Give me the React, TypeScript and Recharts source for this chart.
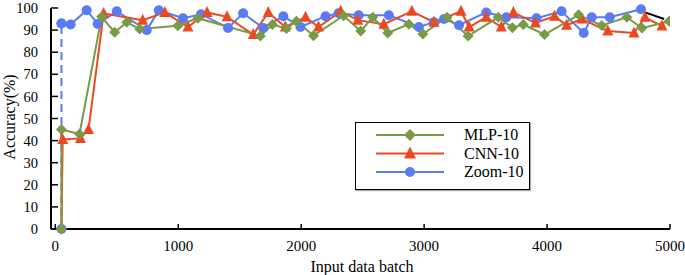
import React from "react";
import { LineChart, Line, XAxis, YAxis, Legend } from "recharts";

// MLP-10
const mlpBatch = [-35, 50, 50, 197, 377, 483, 581, 687, 997, 1160, 1668, 1766, 1880, 1961, 2100, 2345, 2484, 2582, 2704, 2876, 2990, 3187, 3358, 3603, 3718, 3807, 3979, 4257, 4445, 4649, 4772, 4993];
const mlpAcc = [0, 0, 45, 43, 96, 89, 93.5, 90.5, 92, 95.4, 87.3, 92.5, 90.7, 94, 87.5, 96.5, 89.6, 95.8, 88.7, 92.7, 88.2, 95.8, 87.3, 95.8, 91.1, 92.5, 88, 96.9, 92.1, 95.8, 90.9, 94];

// CNN-10
const cnnBatch = [-35, 50, 60, 205, 270, 393, 711, 891, 1079, 1234, 1397, 1610, 1732, 1871, 2035, 2141, 2321, 2460, 2672, 2900, 3080, 3300, 3366, 3505, 3628, 3726, 3906, 4061, 4159, 4282, 4494, 4707, 4796, 4935];
const cnnAcc = [0, 0, 40.5, 41, 45, 97.5, 94.5, 98, 91.4, 98, 96, 88, 98, 91.4, 95.8, 91.4, 98.5, 94.5, 92.7, 98.5, 93.6, 98.5, 91.4, 95.8, 91.4, 98, 93.2, 96.3, 92.2, 95, 89.6, 88.7, 95.8, 91.8];

// Zoom-10 (dashed lead-in, then the main run)
const zoomLeadBatch = [50, 50];
const zoomLeadAcc = [0, 93];
const zoomBatch = [50, 125, 255, 345, 500, 744, 842, 1039, 1185, 1405, 1528, 1691, 1855, 1994, 2198, 2304, 2468, 2713, 2958, 3080, 3162, 3284, 3505, 3669, 3914, 4118, 4298, 4363, 4510, 4764];
const zoomAcc = [93, 92.5, 99, 92.8, 98.5, 90, 99, 95.4, 97.2, 91, 97.6, 91, 96.3, 91.4, 96.3, 97.6, 96.7, 96.7, 91.4, 93.6, 95, 92.2, 98, 95.8, 95.4, 98.5, 88.7, 95.8, 95.8, 99.4];

// stray black segment at the end
const tailBatch = [4797, 4952];
const tailAcc = [98, 95];

const xTicks = [0, 1000, 2000, 3000, 4000, 5000];
const yTicks = [0, 10, 20, 30, 40, 50, 60, 70, 80, 90, 100];

const GREEN = "#7a9b45";
const RED = "#ea4a22";
const BLUE = "#5a7cf2";
const FONT = "'Liberation Serif', 'Times New Roman', serif";

const toPoints = (xs: number[], ys: number[]) => xs.map((x, i) => ({ x, y: ys[i] }));

const mlpData = toPoints(mlpBatch, mlpAcc);
const cnnData = toPoints(cnnBatch, cnnAcc);
const zoomLeadData = toPoints(zoomLeadBatch, zoomLeadAcc);
const zoomData = toPoints(zoomBatch, zoomAcc);
const tailData = toPoints(tailBatch, tailAcc);

const diamondPath = (cx: number, cy: number, r = 5.5) =>
  `M${cx},${cy - r}L${cx + r},${cy}L${cx},${cy + r}L${cx - r},${cy}Z`;
const trianglePath = (cx: number, cy: number, r = 5.5) =>
  `M${cx},${cy - r - 1}L${cx + r},${cy + r - 1}L${cx - r},${cy + r - 1}Z`;

const DiamondDot = (props: any) => {
  const { cx, cy, index, payload } = props;
  if (payload.x < 0) return <g key={index} />;
  return <path key={index} d={diamondPath(cx, cy)} fill={GREEN} />;
};

const TriangleDot = (props: any) => {
  const { cx, cy, index, payload } = props;
  if (payload.y === 0) return <g key={index} />;
  return <path key={index} d={trianglePath(cx, cy)} fill={RED} />;
};

const CircleDot = (props: any) => {
  const { cx, cy, index } = props;
  return <circle key={index} cx={cx} cy={cy} r={5} fill={BLUE} />;
};

const legendItems = [
  { name: "MLP-10", color: GREEN, shape: "diamond" },
  { name: "CNN-10", color: RED, shape: "triangle" },
  { name: "Zoom-10", color: BLUE, shape: "circle" },
];

const LegendBox = () => (
  <div
    style={{
      width: 173,
      height: 66,
      border: "1.5px solid #000",
      background: "#fff",
      boxShadow: "1px 1px 1px #aaa",
    }}
  >
    <svg width={173} height={66}>
      {legendItems.map((it, i) => {
        const y = 12 + i * 18.5;
        return (
          <g key={it.name}>
            <line x1={20} x2={88} y1={y} y2={y} stroke={it.color} strokeWidth={2} />
            {it.shape === "diamond" && <path d={diamondPath(54, y, 6)} fill={it.color} />}
            {it.shape === "triangle" && <path d={trianglePath(54, y, 6)} fill={it.color} />}
            {it.shape === "circle" && <circle cx={54} cy={y} r={5} fill={it.color} />}
            <text x={108} y={y + 5} fontFamily={FONT} fontSize={16} fill="#000">
              {it.name}
            </text>
          </g>
        );
      })}
    </svg>
  </div>
);

export default function App() {
  return (
    <div style={{ position: "absolute", left: 0, top: 0, width: 685, height: 275, background: "#fff" }}>
      <LineChart width={685} height={275} margin={{ top: 8, right: 15, bottom: 0, left: 0 }}>
        <XAxis
          type="number"
          dataKey="x"
          domain={[-35, 5000]}
          ticks={xTicks}
          interval={0}
          allowDataOverflow
          height={46}
          axisLine={{ stroke: "#000", strokeWidth: 2 }}
          tickLine={{ stroke: "#000", strokeWidth: 1.5 }}
          tickSize={-5}
          tickMargin={16}
          tick={{ fill: "#000", fontSize: 15, fontFamily: FONT }}
        />
        <YAxis
          type="number"
          domain={[0, 100]}
          ticks={yTicks}
          interval={0}
          width={51}
          axisLine={{ stroke: "#000", strokeWidth: 2 }}
          tickLine={{ stroke: "#000", strokeWidth: 1.5 }}
          tickSize={-7}
          tickMargin={20}
          tick={{ fill: "#000", fontSize: 14.5, fontFamily: FONT }}
        />
        <Legend
          layout="vertical"
          align="center"
          verticalAlign="middle"
          wrapperStyle={{ left: 355, top: 122, width: 176, height: 69 }}
          content={() => <LegendBox />}
        />
        <Line
          data={zoomLeadData}
          dataKey="y"
          type="linear"
          stroke={BLUE}
          strokeWidth={2}
          strokeDasharray="8 5"
          dot={CircleDot}
          activeDot={false}
          legendType="none"
          isAnimationActive={false}
        />
        <Line
          data={zoomData}
          dataKey="y"
          name="Zoom-10"
          type="linear"
          stroke={BLUE}
          strokeWidth={2}
          dot={CircleDot}
          activeDot={false}
          isAnimationActive={false}
        />
        <Line
          data={cnnData}
          dataKey="y"
          name="CNN-10"
          type="linear"
          stroke={RED}
          strokeWidth={2}
          dot={TriangleDot}
          activeDot={false}
          isAnimationActive={false}
        />
        <Line
          data={mlpData}
          dataKey="y"
          name="MLP-10"
          type="linear"
          stroke={GREEN}
          strokeWidth={2}
          dot={DiamondDot}
          activeDot={false}
          isAnimationActive={false}
        />
        <Line
          data={tailData}
          dataKey="y"
          type="linear"
          stroke="#000"
          strokeWidth={2}
          dot={false}
          activeDot={false}
          legendType="none"
          isAnimationActive={false}
        />
      </LineChart>
      <div
        style={{
          position: "absolute",
          left: 10,
          top: 117,
          transform: "translate(-50%, -50%) rotate(-90deg)",
          whiteSpace: "nowrap",
          fontFamily: FONT,
          fontSize: 16,
          color: "#000",
        }}
      >
        Accuracy(%)
      </div>
      <div
        style={{
          position: "absolute",
          left: 362,
          top: 267,
          transform: "translate(-50%, -50%)",
          whiteSpace: "nowrap",
          fontFamily: FONT,
          fontSize: 16,
          color: "#000",
        }}
      >
        Input data batch
      </div>
    </div>
  );
}
